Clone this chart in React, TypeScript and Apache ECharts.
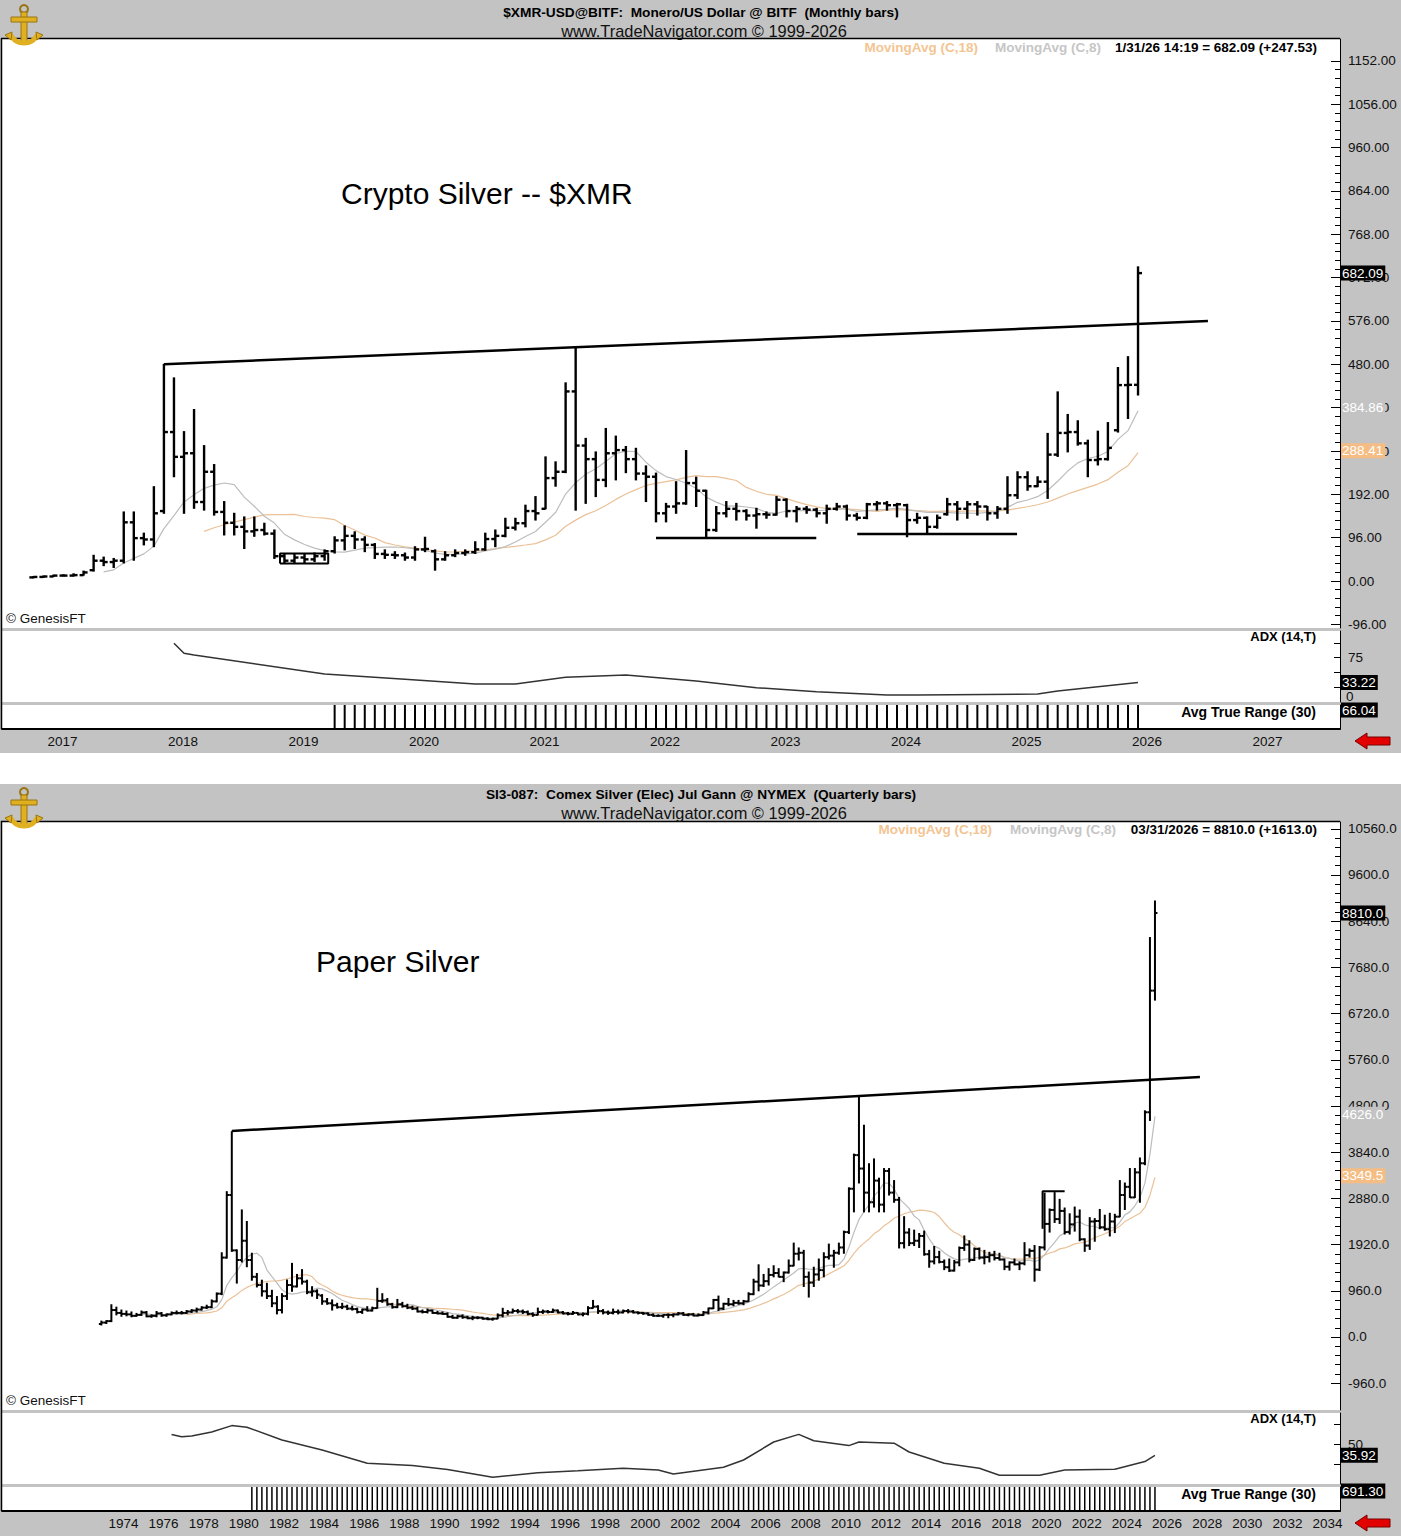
import React, { useEffect, useRef } from "react";
import * as echarts from "echarts";

// ===================== DATA =====================
// ---- $XMR monthly bars, first bar = Nov 2016, last = Jan 2026 ----
const xmrFirstYear = 2016;
const xmrFirstMonth = 11;
const xmrOpen = [
  8, 9, 10, 12, 12, 13, 24, 45, 42, 45,
  130, 95, 92, 155, 330, 275, 283, 175, 242, 153,
  129, 120, 110, 113, 105, 55, 45, 52, 48, 55,
  66, 90, 100, 92, 80, 60, 58, 57, 52, 70,
  66, 48, 57, 62, 64, 70, 93, 100, 118, 128,
  155, 160, 228, 242, 420, 300, 270, 224, 283, 290,
  270, 238, 231, 150, 165, 172, 217, 200, 113, 150,
  160, 155, 145, 148, 147, 180, 155, 160, 158, 150,
  160, 165, 145, 140, 170, 172, 168, 168, 135, 140,
  120, 148, 170, 160, 170, 165, 150, 160, 190, 230,
  210, 220, 280, 328, 330, 305, 268, 270, 334, 434, 434.56,
];
const xmrHigh = [
  10, 11, 13, 14, 16, 22, 57, 53, 50, 153,
  153, 106, 209, 480, 450, 331, 380, 300, 258, 176,
  150, 142, 142, 128, 113, 61, 60, 60, 62, 69,
  98, 122, 109, 98, 83, 69, 65, 62, 76, 97,
  69, 65, 69, 69, 87, 106, 113, 139, 139, 168,
  187, 275, 264, 439, 519, 316, 286, 338, 321, 298,
  294, 255, 239, 172, 220, 289, 230, 201, 165, 176,
  172, 158, 161, 153, 187, 182, 165, 165, 161, 168,
  172, 168, 150, 172, 176, 176, 172, 170, 150, 142,
  146, 183, 176, 176, 176, 165, 165, 231, 242, 242,
  231, 327, 419, 369, 355, 312, 332, 351, 473, 497, 696,
];
const xmrLow = [
  7, 8, 10, 11, 11, 13, 22, 34, 30, 40,
  46, 80, 76, 150, 231, 150, 161, 157, 146, 102,
  102, 72, 99, 102, 50, 39, 40, 40, 43, 46,
  62, 69, 72, 65, 50, 50, 50, 46, 46, 65,
  24, 46, 54, 57, 61, 68, 76, 98, 113, 120,
  135, 160, 210, 240, 157, 172, 187, 209, 224, 240,
  224, 176, 131, 131, 150, 170, 165, 98, 110, 142,
  135, 135, 117, 139, 146, 142, 131, 150, 142, 128,
  157, 135, 135, 138, 157, 157, 142, 98, 128, 106,
  117, 146, 135, 139, 146, 135, 139, 150, 183, 201,
  209, 183, 276, 286, 301, 231, 257, 268, 330, 360, 412,
];
const xmrClose = [
  9, 10, 12, 12, 13, 19, 45, 42, 45, 130,
  95, 92, 150, 330, 275, 283, 175, 242, 153, 129,
  120, 110, 113, 105, 55, 45, 52, 48, 55, 66,
  90, 100, 92, 80, 60, 58, 57, 52, 70, 71,
  48, 57, 62, 64, 70, 93, 100, 118, 128, 155,
  150, 228, 242, 420, 300, 270, 224, 283, 290, 270,
  238, 231, 150, 165, 172, 217, 200, 113, 150, 160,
  155, 145, 148, 147, 180, 155, 160, 158, 150, 160,
  165, 145, 140, 170, 172, 168, 170, 135, 140, 120,
  140, 170, 160, 170, 165, 150, 160, 190, 230, 210,
  220, 280, 328, 330, 305, 268, 270, 295, 434, 434.56, 682.09,
];
// ADX(14,T) at these bar indexes
const xmrAdxBars = [14, 15, 16, 29, 37, 44, 48, 53, 59, 66, 72, 78, 85, 88, 100, 102, 106, 110];
const xmrAdxValues = [99.5, 82.5, 79.7, 47.5, 38.5, 30.5, 30.5, 41.9, 45.8, 35.6, 24.2, 17.5, 11.9, 11.9, 13.6, 18.6, 25.9, 33.22];
// Drawn annotations (time in years, price)
const xmrTrendTimes = [2017.917, 2026.58];
const xmrTrendValues = [480, 576];
const xmrSupport1Times = [2022.0, 2023.33];
const xmrSupport1Value = 95;
const xmrSupport2Times = [2023.67, 2024.996];
const xmrSupport2Value = 104;
const xmrBoxTimes = [2018.88, 2019.28];
const xmrBoxValues = [39, 61];
// Axis labels
const xmrYearLabels = [2017, 2018, 2019, 2020, 2021, 2022, 2023, 2024, 2025, 2026, 2027];
const xmrPriceTicks = [-96, 0, 96, 192, 288, 384, 480, 576, 672, 768, 864, 960, 1056, 1152];
// Header / tags
const xmrLastLabel = "1/31/26 14:19 = 682.09 (+247.53)";
const xmrLast = 682.09;
const xmrMa8Last = 384.86;
const xmrMa18Last = 288.41;
const xmrAdxLast = 33.22;
const xmrAtrLast = 66.04;

// ---- Silver quarterly bars, first bar = Q3 1973, last = Q1 2026 ----
const agFirstYear = 1973;
const agFirstQuarter = 3;
const agOpen = [
  270, 300, 330, 560, 500, 480, 470, 440, 460, 510,
  430, 440, 490, 450, 470, 500, 500, 500, 530, 550,
  570, 610, 620, 740, 900, 1650, 2950, 1800, 1600, 2000,
  1600, 1250, 1080, 950, 850, 700, 560, 850, 1080, 1050,
  1220, 1150, 930, 950, 860, 740, 700, 660, 620, 630,
  590, 580, 520, 570, 550, 600, 750, 760, 680, 620,
  680, 640, 610, 590, 530, 520, 550, 500, 490, 480,
  420, 400, 430, 410, 390, 400, 400, 380, 370, 380,
  450, 500, 510, 540, 530, 520, 480, 460, 520, 530,
  520, 550, 510, 490, 480, 500, 470, 480, 600, 630,
  540, 510, 500, 520, 510, 540, 530, 510, 500, 490,
  460, 440, 440, 460, 460, 470, 490, 460, 470, 445,
  455, 510, 595, 770, 590, 690, 680, 710, 700, 740,
  890, 1150, 1070, 1160, 1290, 1330, 1250, 1340, 1480, 1730,
  1750, 1250, 1130, 1300, 1390, 1660, 1690, 1750, 1860, 2180,
  3080, 3780, 3500, 3000, 2800, 3250, 2750, 3450, 3000, 2850,
  1950, 2170, 1950, 2000, 2100, 1720, 1570, 1660, 1560, 1450,
  1380, 1550, 1850, 1920, 1600, 1830, 1650, 1660, 1700, 1640,
  1610, 1460, 1550, 1510, 1530, 1700, 1790, 1400, 1860, 2350,
  2640, 2450, 2620, 2180, 2340, 2500, 2030, 1900, 2400, 2410,
  2280, 2240, 2400, 2500, 2950, 3120, 2900, 3420, 3610, 4670, 7197,
];
const agHigh = [
  330, 340, 670, 620, 560, 540, 520, 490, 540, 530,
  460, 530, 510, 480, 520, 540, 530, 550, 570, 600,
  630, 660, 770, 915, 1750, 3020, 4266, 1810, 2640, 2400,
  1740, 1320, 1180, 1115, 970, 840, 900, 1184, 1530, 1300,
  1400, 1180, 1045, 980, 880, 800, 770, 700, 700, 660,
  640, 600, 580, 630, 620, 1012, 900, 800, 700, 780,
  720, 680, 640, 620, 560, 580, 560, 530, 520, 500,
  450, 450, 460, 430, 430, 420, 410, 400, 390, 480,
  596, 550, 580, 570, 560, 540, 500, 600, 560, 550,
  580, 560, 530, 510, 530, 500, 500, 630, 760, 650,
  570, 540, 580, 560, 560, 570, 550, 520, 510, 500,
  480, 460, 460, 480, 480, 510, 510, 480, 490, 480,
  530, 600, 780, 850, 700, 800, 760, 760, 760, 920,
  1200, 1500, 1300, 1420, 1480, 1420, 1350, 1600, 1950, 1850,
  1800, 1350, 1450, 1620, 1750, 1930, 1800, 1950, 2200, 3100,
  3800, 4990, 4400, 3600, 3700, 3300, 3500, 3500, 3250, 2900,
  2500, 2250, 2220, 2150, 2200, 1800, 1880, 1780, 1600, 1620,
  1590, 1870, 2100, 2000, 1850, 1850, 1800, 1760, 1780, 1740,
  1620, 1560, 1620, 1560, 1960, 1830, 1900, 1880, 2990, 2660,
  3000, 2860, 2680, 2560, 2700, 2640, 2040, 2480, 2460, 2650,
  2530, 2570, 2550, 3250, 3200, 3500, 3500, 3720, 4700, 8300, 9060,
];
const agLow = [
  250, 280, 320, 460, 430, 440, 420, 430, 450, 420,
  410, 420, 430, 430, 460, 480, 480, 490, 510, 520,
  560, 590, 610, 730, 880, 1640, 1780, 1120, 1560, 1460,
  1180, 1040, 850, 800, 630, 480, 500, 780, 950, 1040,
  1100, 900, 850, 800, 680, 680, 560, 600, 590, 570,
  560, 500, 490, 540, 540, 600, 720, 660, 600, 610,
  620, 590, 570, 520, 500, 500, 490, 480, 470, 410,
  390, 390, 390, 380, 360, 380, 370, 360, 350, 380,
  420, 460, 500, 500, 490, 460, 430, 460, 490, 500,
  510, 500, 480, 460, 470, 460, 440, 460, 600, 490,
  480, 470, 480, 480, 500, 500, 500, 480, 470, 450,
  430, 430, 410, 400, 420, 460, 450, 440, 440, 440,
  450, 480, 590, 550, 570, 650, 650, 680, 670, 740,
  880, 960, 1050, 1080, 1250, 1250, 1150, 1330, 1480, 1600,
  1050, 830, 1050, 1180, 1250, 1620, 1450, 1720, 1740, 2150,
  2600, 3200, 2600, 2600, 2700, 2600, 2600, 2950, 2800, 1850,
  1850, 1900, 1900, 1860, 1700, 1450, 1520, 1540, 1400, 1360,
  1370, 1480, 1800, 1560, 1590, 1620, 1520, 1560, 1600, 1600,
  1400, 1390, 1500, 1400, 1500, 1660, 1160, 1380, 1810, 2180,
  2380, 2360, 2140, 2140, 2200, 2000, 1780, 1820, 1990, 2250,
  2220, 2100, 2170, 2500, 2650, 2900, 2900, 2800, 3580, 4500, 7000,
];
const agClose = [
  300, 330, 560, 500, 480, 470, 440, 460, 510, 430,
  440, 490, 450, 470, 500, 500, 500, 530, 550, 570,
  610, 620, 740, 900, 1650, 2950, 1800, 1600, 2000, 1600,
  1250, 1080, 950, 850, 700, 560, 850, 1080, 1050, 1220,
  1150, 930, 950, 880, 740, 700, 660, 620, 630, 590,
  580, 520, 570, 550, 600, 750, 760, 680, 620, 680,
  640, 610, 590, 530, 520, 550, 500, 490, 480, 420,
  400, 430, 410, 390, 400, 400, 380, 370, 380, 450,
  500, 510, 540, 530, 520, 480, 460, 520, 530, 520,
  550, 510, 490, 480, 500, 470, 480, 600, 630, 540,
  510, 500, 520, 510, 540, 530, 510, 500, 490, 460,
  440, 440, 460, 460, 470, 490, 460, 470, 445, 455,
  510, 595, 770, 590, 690, 680, 710, 700, 740, 890,
  1150, 1070, 1160, 1290, 1330, 1250, 1340, 1480, 1730, 1750,
  1250, 1130, 1300, 1390, 1660, 1690, 1750, 1860, 2180, 3080,
  3780, 3500, 3000, 2800, 3250, 2750, 3450, 3000, 2850, 1950,
  2170, 1950, 2000, 2100, 1720, 1570, 1660, 1560, 1450, 1380,
  1550, 1850, 1920, 1600, 1830, 1650, 1660, 1700, 1640, 1610,
  1460, 1550, 1510, 1530, 1700, 1790, 1400, 1860, 2350, 2640,
  2450, 2620, 2180, 2340, 2500, 2030, 1900, 2400, 2410, 2280,
  2240, 2400, 2500, 2950, 3120, 2900, 3420, 3610, 4670, 7197, 8810,
];
const agAdxBars = [14, 16, 18, 22, 26, 29, 36, 44, 53, 62, 69, 78, 87, 95, 104, 111, 114, 124, 128, 134, 139, 142, 149, 151, 158, 161, 168, 175, 179, 187, 192, 202, 208, 210];
const agAdxValues = [62, 59, 60, 65, 73, 71, 55, 42.5, 26, 23, 18, 8.4, 14, 16.6, 19.6, 17.5, 12.5, 21, 30, 52.5, 62, 54, 48, 52.5, 51, 40, 26, 19.6, 11, 11, 17.5, 18.4, 28, 35.92];
const agTrendTimes = [1980.0, 2028.24];
const agTrendValues = [4281, 5403];
const agBoxTimes = [2020.4, 2021.5];
const agBoxValues = [2250, 3030];
const agYearLabels = [1974, 1976, 1978, 1980, 1982, 1984, 1986, 1988, 1990, 1992, 1994, 1996, 1998, 2000, 2002, 2004, 2006, 2008, 2010, 2012, 2014, 2016, 2018, 2020, 2022, 2024, 2026, 2028, 2030, 2032, 2034];
const agPriceTicks = [-960, 0, 960, 1920, 2880, 3840, 4800, 5760, 6720, 7680, 8640, 9600, 10560];
const agLastLabel = "03/31/2026 = 8810.0 (+1613.0)";
const agLast = 8810.0;
const agMa8Last = 4626.0;
const agMa18Last = 3349.5;
const agAdxLast = 35.92;
const agAtrLast = 691.3;

// ===================== HELPERS =====================
const FONT = '"Liberation Sans", Arial, Helvetica, sans-serif';
const BG = "#c3c3c3";
const ORANGE_MA = "#ebc197";
const GRAY_MA = "#bdbdbd";
const AXIS_FS = 13.5;

const xmrTime = (k: number) => xmrFirstYear + (xmrFirstMonth - 1 + k) / 12;
const agTime = (i: number) => agFirstYear + (agFirstQuarter - 1 + i) / 4;

function sma(vals: number[], n: number, t: (i: number) => number) {
  const out: number[][] = [];
  for (let i = n - 1; i < vals.length; i++) {
    let s = 0;
    for (let j = i - n + 1; j <= i; j++) s += vals[j];
    out.push([t(i), s / n]);
  }
  return out;
}
function atr(h: number[], l: number[], c: number[], n: number, t: (i: number) => number) {
  const tr: number[] = [0];
  for (let i = 1; i < h.length; i++) {
    tr.push(Math.max(h[i] - l[i], Math.abs(h[i] - c[i - 1]), Math.abs(l[i] - c[i - 1])));
  }
  const out: number[][] = [];
  for (let i = n; i < h.length; i++) {
    let s = 0;
    for (let j = i - n + 1; j <= i; j++) s += tr[j];
    out.push([t(i), s / n]);
  }
  return out;
}
function ohlcData(o: number[], h: number[], l: number[], c: number[], t: (i: number) => number) {
  return o.map((_, i) => [t(i), o[i], h[i], l[i], c[i]]);
}
function ohlcRenderer(lineWidth: number, tick: number) {
  return (params: any, api: any) => {
    const x = api.value(0);
    const o = api.coord([x, api.value(1)]);
    const h = api.coord([x, api.value(2)]);
    const l = api.coord([x, api.value(3)]);
    const c = api.coord([x, api.value(4)]);
    const st = { stroke: "#000", lineWidth };
    return {
      type: "group",
      children: [
        { type: "line", shape: { x1: h[0], y1: h[1] - 0.5, x2: l[0], y2: l[1] + 0.5 }, style: st },
        { type: "line", shape: { x1: o[0] - tick, y1: o[1], x2: o[0], y2: o[1] }, style: st },
        { type: "line", shape: { x1: c[0], y1: c[1], x2: c[0] + tick, y2: c[1] }, style: st },
      ],
    };
  };
}
function minorTicks(majors: number[], step: number) {
  const out: number[] = [];
  const lo = majors[0];
  const hi = majors[majors.length - 1];
  for (let v = lo; v <= hi + 1e-6; v += step) {
    const r = Math.round(v * 100) / 100;
    if (!majors.includes(r)) out.push(r);
  }
  return out;
}

// ===================== LAYOUT =====================
const W = 1401;
const H = 1536;
const PL = 2;
const PW = 1338;
const TOP = { main: [39, 589], adx: [631, 71], atr: [705, 24] };
const BOT = { main: [822, 588], adx: [1413, 71], atr: [1487, 24] };
const XMR_XMIN = 2016.573, XMR_XMAX = 2027.676;
const AG_XMIN = 1968.55, AG_XMAX = 2035.22;

function buildOption() {
  const grids = [TOP.main, TOP.adx, TOP.atr, BOT.main, BOT.adx, BOT.atr].map((g) => ({
    left: PL, top: g[0], width: PW, height: g[1], show: true, backgroundColor: "#fff", borderWidth: 0,
  }));
  const hiddenX = (grid: number, min: number, max: number) => ({
    type: "value", gridIndex: grid, min, max, show: false,
  });
  const labelX = (grid: number, min: number, max: number, years: number[], off: number) => ({
    type: "value", gridIndex: grid, min, max,
    axisLine: { show: true, lineStyle: { color: "#000", width: 2 } },
    axisTick: { show: false },
    splitLine: { show: false },
    axisLabel: {
      customValues: years.map((y) => y + off),
      formatter: (v: number) => String(Math.floor(v + 1e-6)),
      color: "#111", fontSize: AXIS_FS, fontFamily: FONT, margin: 5,
    },
  });
  const yBase = (grid: number, min: number, max: number) => ({
    type: "value", gridIndex: grid, min, max, position: "right",
    splitLine: { show: false },
  });
  const yMajor = (grid: number, min: number, max: number, ticks: number[], digits: number, labels = true) => ({
    ...yBase(grid, min, max),
    axisLine: { show: true, lineStyle: { color: "#000", width: 1 } },
    axisTick: { show: true, inside: true, length: 9, customValues: ticks, lineStyle: { color: "#000" } },
    axisLabel: labels
      ? { show: true, customValues: ticks, formatter: (v: number) => v.toFixed(digits), color: "#111", fontSize: AXIS_FS, fontFamily: FONT, margin: 8 }
      : { show: false },
  });
  const yMinor = (grid: number, min: number, max: number, ticks: number[]) => ({
    ...yBase(grid, min, max),
    axisLine: { show: false },
    axisTick: { show: true, inside: true, length: 5, customValues: ticks, lineStyle: { color: "#000" } },
    axisLabel: { show: false },
  });

  const xmrMinor = minorTicks(xmrPriceTicks, 19.2);
  const agMinor = minorTicks(agPriceTicks, 192);

  const yAxes = [
    yMajor(0, -104.1, 1200.7, xmrPriceTicks, 2), // 0
    yMinor(0, -104.1, 1200.7, xmrMinor), // 1
    { ...yMajor(1, 0, 120.3, [75], 0), axisTick: { show: true, inside: true, length: 6, customValues: [25, 50, 75, 100], lineStyle: { color: "#000" } } }, // 2
    { ...yBase(2, 0, 10), axisLine: { show: true, lineStyle: { color: "#000" } }, axisTick: { show: false }, axisLabel: { show: false } }, // 3
    yMajor(3, -1517, 10701, agPriceTicks, 1), // 4
    yMinor(3, -1517, 10701, agMinor), // 5
    { ...yMajor(4, 0, 88.75, [50], 0), axisTick: { show: true, inside: true, length: 6, customValues: [25, 50, 75], lineStyle: { color: "#000" } } }, // 6
    { ...yBase(5, 0, 20), axisLine: { show: true, lineStyle: { color: "#000" } }, axisTick: { show: false }, axisLabel: { show: false } }, // 7
  ];

  const xAxes = [
    hiddenX(0, XMR_XMIN, XMR_XMAX),
    hiddenX(1, XMR_XMIN, XMR_XMAX),
    labelX(2, XMR_XMIN, XMR_XMAX, xmrYearLabels, 0.075),
    hiddenX(3, AG_XMIN, AG_XMAX),
    hiddenX(4, AG_XMIN, AG_XMAX),
    labelX(5, AG_XMIN, AG_XMAX, agYearLabels, 0.6),
  ];

  const blackLine = (xi: number, yi: number, data: number[][], width = 2.5) => ({
    type: "line", xAxisIndex: xi, yAxisIndex: yi, data, showSymbol: false, symbol: "none",
    lineStyle: { color: "#000", width }, silent: true, z: 4, clip: true,
  });
  const maLine = (xi: number, yi: number, data: number[][], color: string) => ({
    type: "line", xAxisIndex: xi, yAxisIndex: yi, data, showSymbol: false, symbol: "none",
    lineStyle: { color, width: 1.2 }, silent: true, z: 2,
  });

  const series: any[] = [
    // ---------- XMR ----------
    maLine(0, 0, sma(xmrClose, 18, xmrTime), ORANGE_MA),
    maLine(0, 0, sma(xmrClose, 8, xmrTime), GRAY_MA),
    {
      type: "custom", xAxisIndex: 0, yAxisIndex: 0, data: ohlcData(xmrOpen, xmrHigh, xmrLow, xmrClose, xmrTime),
      encode: { x: 0, y: [1, 2, 3, 4] }, renderItem: ohlcRenderer(2.4, 4), silent: true, z: 3, clip: true,
    },
    blackLine(0, 0, xmrTrendTimes.map((t, i) => [t, xmrTrendValues[i]])),
    blackLine(0, 0, xmrSupport1Times.map((t) => [t, xmrSupport1Value])),
    blackLine(0, 0, xmrSupport2Times.map((t) => [t, xmrSupport2Value])),
    blackLine(0, 0, [
      [xmrBoxTimes[0], xmrBoxValues[0]], [xmrBoxTimes[0], xmrBoxValues[1]], [xmrBoxTimes[1], xmrBoxValues[1]],
      [xmrBoxTimes[1], xmrBoxValues[0]], [xmrBoxTimes[0], xmrBoxValues[0]],
    ], 2),
    {
      type: "line", xAxisIndex: 1, yAxisIndex: 2, data: xmrAdxBars.map((k, i) => [xmrTime(k), xmrAdxValues[i]]),
      showSymbol: false, symbol: "none", lineStyle: { color: "#333", width: 1.5 }, silent: true,
    },
    {
      type: "bar", xAxisIndex: 2, yAxisIndex: 3, data: atr(xmrHigh, xmrLow, xmrClose, 30, xmrTime),
      barWidth: 2, itemStyle: { color: "#000" }, silent: true, clip: true,
    },
    // ---------- Silver ----------
    maLine(3, 4, sma(agClose, 18, agTime), ORANGE_MA),
    maLine(3, 4, sma(agClose, 8, agTime), GRAY_MA),
    {
      type: "custom", xAxisIndex: 3, yAxisIndex: 4, data: ohlcData(agOpen, agHigh, agLow, agClose, agTime),
      encode: { x: 0, y: [1, 2, 3, 4] }, renderItem: ohlcRenderer(2, 2.5), silent: true, z: 3, clip: true,
    },
    blackLine(3, 4, agTrendTimes.map((t, i) => [t, agTrendValues[i]])),
    blackLine(3, 4, [
      [agBoxTimes[0], agBoxValues[0]], [agBoxTimes[0], agBoxValues[1]], [agBoxTimes[1], agBoxValues[1]],
    ], 2),
    {
      type: "line", xAxisIndex: 4, yAxisIndex: 6, data: agAdxBars.map((k, i) => [agTime(k), agAdxValues[i]]),
      showSymbol: false, symbol: "none", lineStyle: { color: "#333", width: 1.5 }, silent: true,
    },
    {
      type: "bar", xAxisIndex: 5, yAxisIndex: 7, data: atr(agHigh, agLow, agClose, 30, agTime),
      barWidth: 1.5, itemStyle: { color: "#000" }, silent: true, clip: true,
    },
  ];

  return {
    animation: false,
    backgroundColor: BG,
    textStyle: { fontFamily: FONT },
    grid: grids,
    xAxis: xAxes,
    yAxis: yAxes,
    series,
  };
}

function txt(x: number, y: number, text: string, opts: any = {}) {
  const font = `${opts.weight || "normal"} ${opts.size || 12}px ${FONT}`;
  return {
    type: "text", x, y, z: opts.z || 10, silent: true,
    style: {
      text, font, fill: opts.fill || "#000",
      align: opts.align || "left", verticalAlign: opts.valign || "middle",
      textAlign: opts.align || "left", textVerticalAlign: opts.valign || "middle",
      backgroundColor: opts.bg, padding: opts.padding,
    },
  };
}
function hline(x1: number, y: number, x2: number, color = "#000", w = 1) {
  return { type: "line", z: 9, silent: true, shape: { x1, y1: y, x2, y2: y }, style: { stroke: color, lineWidth: w } };
}
function vline(x: number, y1: number, y2: number, color = "#000", w = 1) {
  return { type: "line", z: 9, silent: true, shape: { x1: x, y1, x2: x, y2 }, style: { stroke: color, lineWidth: w } };
}
function logo(ox: number, oy: number) {
  const gold = "#e0b020";
  const dark = "#9a7410";
  return [
    { type: "circle", z: 10, silent: true, shape: { cx: ox + 22, cy: oy + 7, r: 4 }, style: { fill: "none", stroke: dark, lineWidth: 2 } },
    { type: "rect", z: 10, silent: true, shape: { x: ox + 19, y: oy + 10, width: 6, height: 30 }, style: { fill: gold, stroke: dark, lineWidth: 1 } },
    { type: "rect", z: 10, silent: true, shape: { x: ox + 9, y: oy + 15, width: 26, height: 5 }, style: { fill: gold, stroke: dark, lineWidth: 1 } },
    { type: "arc", z: 10, silent: true, shape: { cx: ox + 22, cy: oy + 26, r: 15, startAngle: 0.15 * Math.PI, endAngle: 0.85 * Math.PI }, style: { fill: "none", stroke: gold, lineWidth: 5 } },
    { type: "polygon", z: 10, silent: true, shape: { points: [[ox + 3, oy + 33], [ox + 10, oy + 30], [ox + 9, oy + 38]] }, style: { fill: gold, stroke: dark } },
    { type: "polygon", z: 10, silent: true, shape: { points: [[ox + 41, oy + 33], [ox + 34, oy + 30], [ox + 35, oy + 38]] }, style: { fill: gold, stroke: dark } },
  ];
}
function redArrow(x: number, y: number) {
  return {
    type: "polygon", z: 10, silent: true,
    shape: { points: [[x, y], [x + 12, y - 8], [x + 12, y - 4], [x + 35, y - 4], [x + 35, y + 4], [x + 12, y + 4], [x + 12, y + 8]] },
    style: { fill: "#e30000", stroke: "#7a0000", lineWidth: 1 },
  };
}

function buildGraphic(chart: any) {
  const py = (yAxisIndex: number, v: number) => chart.convertToPixel({ yAxisIndex }, v);
  const g: any[] = [];
  // white gap between the two panels
  g.push({ type: "rect", z: 1, silent: true, shape: { x: 0, y: 753, width: W, height: 31 }, style: { fill: "#fff" } });

  // frames
  for (const p of [TOP, BOT]) {
    const top = p.main[0];
    const bottom = p.atr[0] + p.atr[1];
    g.push(hline(1, top - 0.5, PL + PW, "#000", 1.5));
    g.push(vline(1.5, top - 1, bottom, "#000", 1.5));
  }

  // titles
  g.push(txt(701, 12, "$XMR-USD@BITF:  Monero/US Dollar @ BITF  (Monthly bars)", { weight: "bold", size: 13.7, align: "center" }));
  g.push(txt(704, 31, "www.TradeNavigator.com © 1999-2026", { size: 16.4, align: "center", fill: "#111" }));
  g.push(txt(701, 794, "SI3-087:  Comex Silver (Elec) Jul Gann @ NYMEX  (Quarterly bars)", { weight: "bold", size: 13.7, align: "center" }));
  g.push(txt(704, 813, "www.TradeNavigator.com © 1999-2026", { size: 16.4, align: "center", fill: "#111" }));
  g.push(...logo(2, 2));
  g.push(...logo(2, 785));

  // legends
  const LFS = 13.5;
  g.push(txt(978, 47, "MovingAvg (C,18)", { weight: "bold", size: LFS, align: "right", fill: "#f3c593" }));
  g.push(txt(1101, 47, "MovingAvg (C,8)", { weight: "bold", size: LFS, align: "right", fill: "#c6c6c6" }));
  g.push(txt(1317, 47, xmrLastLabel, { weight: "bold", size: LFS, align: "right" }));
  g.push(txt(992, 829, "MovingAvg (C,18)", { weight: "bold", size: LFS, align: "right", fill: "#f3c593" }));
  g.push(txt(1116, 829, "MovingAvg (C,8)", { weight: "bold", size: LFS, align: "right", fill: "#c6c6c6" }));
  g.push(txt(1317, 829, agLastLabel, { weight: "bold", size: LFS, align: "right" }));

  // annotations
  g.push(txt(341, 193, "Crypto Silver -- $XMR", { size: 30 }));
  g.push(txt(316, 961, "Paper Silver", { size: 30 }));
  g.push(txt(6, 618, "© GenesisFT", { size: 13.5, fill: "#111" }));
  g.push(txt(6, 1400, "© GenesisFT", { size: 13.5, fill: "#111" }));
  g.push(txt(1316, 636, "ADX (14,T)", { weight: "bold", size: 13, align: "right" }));
  g.push(txt(1316, 712, "Avg True Range (30)", { weight: "bold", size: 14, align: "right" }));
  g.push(txt(1316, 1418, "ADX (14,T)", { weight: "bold", size: 13, align: "right" }));
  g.push(txt(1316, 1494, "Avg True Range (30)", { weight: "bold", size: 14, align: "right" }));

  // ADX zero label (top)
  g.push(txt(1346, py(2, 0) - 6, "0", { size: AXIS_FS, fill: "#111" }));

  // value tags on the right axes
  const tag = (y: number, text: string, fill: string, bg: string) =>
    txt(1341, y, text, { size: 13.5, fill, bg, padding: [1, 2, 0, 1], z: 20 });
  g.push(tag(py(0, xmrLast), xmrLast.toFixed(2), "#fff", "#000"));
  g.push(tag(py(0, xmrMa8Last), xmrMa8Last.toFixed(2), "#fff", BG));
  g.push(tag(py(0, xmrMa18Last), xmrMa18Last.toFixed(2), "#fff", "#f5bd84"));
  g.push(tag(py(2, xmrAdxLast), xmrAdxLast.toFixed(2), "#fff", "#000"));
  g.push(tag(Math.max(py(3, xmrAtrLast), TOP.atr[0]) + 5, xmrAtrLast.toFixed(2), "#fff", "#000"));
  g.push(tag(py(4, agLast), agLast.toFixed(1), "#fff", "#000"));
  g.push(tag(py(4, agMa8Last), agMa8Last.toFixed(1), "#fff", BG));
  g.push(tag(py(4, agMa18Last), agMa18Last.toFixed(1), "#fff", "#f5bd84"));
  g.push(tag(py(6, agAdxLast), agAdxLast.toFixed(2), "#fff", "#000"));
  g.push(tag(Math.max(py(7, agAtrLast), BOT.atr[0]) + 4, agAtrLast.toFixed(2), "#fff", "#000"));

  // red arrows
  g.push(redArrow(1355, 741));
  g.push(redArrow(1355, 1523));
  return g;
}

export default function App() {
  const ref = useRef<HTMLDivElement>(null);
  useEffect(() => {
    const el = ref.current;
    if (!el) return;
    const chart = echarts.init(el, null, { renderer: "svg", width: W, height: H });
    chart.setOption(buildOption() as any);
    chart.setOption({ graphic: buildGraphic(chart) } as any);
    return () => chart.dispose();
  }, []);
  return <div ref={ref} style={{ position: "absolute", left: 0, top: 0, width: W, height: H }} />;
}
